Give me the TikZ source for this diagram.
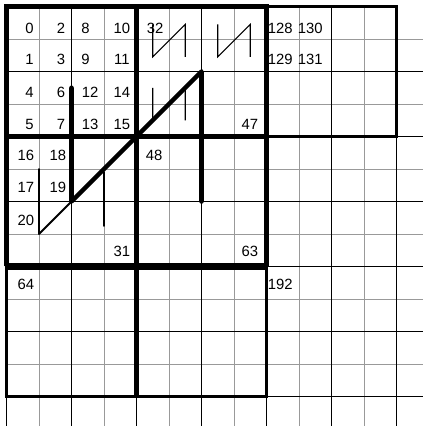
\documentclass[tikz,border=0pt]{standalone}
\usepackage{fontspec}
\setmainfont{Liberation Sans}
\usetikzlibrary{positioning}

\begin{document}
\begin{tikzpicture}[
    oddline/.style={black!40, line width=0.85pt},
    evenline/.style={black, line width=0.85pt},
    heavy/.style={black, line width=3.8pt},
    midline/.style={black, line width=2.3pt},
    zbig/.style={black, line width=4pt, line cap=round, line join=round},
    zmid/.style={black, line width=1.7pt, line cap=round, line join=round},
    zsmall/.style={black, line width=0.9pt},
    num/.style={font=\fontsize{13}{15}\selectfont, inner sep=0pt}]
    \useasboundingbox (-0.2,0.2) rectangle (12.815,-12.908);
    % grid lines
    \foreach \k in {1,3,...,11} {
      \draw[oddline] (\k,0) -- (\k,-12.908);
      \draw[oddline] (0,-\k) -- (12.815,-\k);
    }
    \foreach \k in {2,4,...,12} {
      \draw[evenline] (\k,0) -- (\k,-12.908);
      \draw[evenline] (0,-\k) -- (12.815,-\k);
    }
    \draw[evenline] (0,0) -- (0,-12.908);
    % block borders
    \draw[heavy] (0,-8) -- (0,0) -- (8,0) -- (8,-8);
    \draw[heavy] (4,0) -- (4,-8);
    \draw[heavy] (0,-4) -- (8,-4);
    \draw[black, line width=6pt] (-0.06,-8) -- (8.06,-8);
    \draw[midline] (8,0) -- (12,0);
    \draw[midline] (12,0.04) -- (12,-4) -- (8,-4);
    \draw[black, line width=2pt] (0,-8) -- (0,-12) -- (8,-12) -- (8,-8);
    \draw[heavy] (4,-8) -- (4,-12);
    % z-order curves
    \draw[zbig] (2,-2.5) -- (2,-6) -- (6,-2) -- (6,-6);
    \draw[zmid] (1,-5) -- (1,-7) -- (3,-5);
    \draw[zmid] (3,-5.1) -- (3,-6.75);
    \foreach \cx/\cy in {4.5/-0.55, 6.5/-0.55, 4.5/-2.5} {
      \draw[zsmall] (\cx,\cy) -- (\cx,-1.5+\cy+0.5) -- (\cx+1,\cy) -- (\cx+1,-1.5+\cy+0.5);
    }
    % cell numbers
    \foreach \t/\x/\y [count=\i] in
      {0/0.71/-0.66, 2/1.68/-0.66, 8/2.43/-0.66, 10/3.55/-0.66,
       1/0.71/-1.64, 3/1.68/-1.64, 9/2.43/-1.64, 11/3.55/-1.64,
       4/0.71/-2.63, 6/1.68/-2.63, 12/2.57/-2.63, 14/3.55/-2.63,
       5/0.71/-3.64, 7/1.68/-3.64, 13/2.57/-3.64, 15/3.55/-3.64,
       16/0.6/-4.58, 18/1.58/-4.58, 17/0.6/-5.57, 19/1.58/-5.57,
       20/0.6/-6.57, 31/3.55/-7.55, 32/4.57/-0.66, 47/7.49/-3.64,
       48/4.54/-4.58, 63/7.49/-7.55, 64/0.6/-8.54, 128/8.42/-0.66,
       130/9.35/-0.66, 129/8.42/-1.64, 131/9.35/-1.64, 192/8.42/-8.54} {
      \node[num] (n\t) at (\x,\y) {\t};
    }
\end{tikzpicture}
\end{document}
